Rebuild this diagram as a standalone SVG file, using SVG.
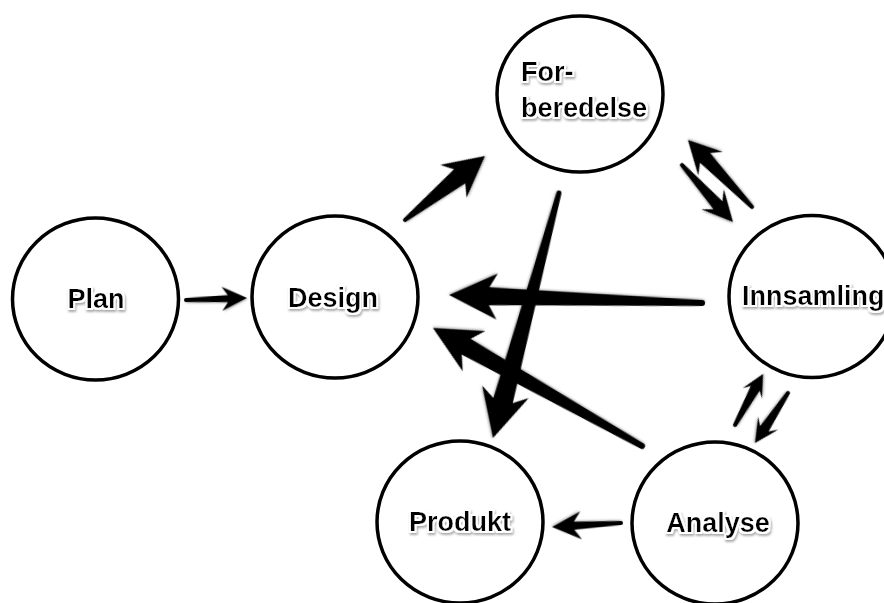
<svg xmlns="http://www.w3.org/2000/svg" width="884" height="603" viewBox="0 0 884 603">
<defs>
<style>
.node{fill:#fff;stroke:#000;stroke-width:3.5}
.lbl{font-family:"Liberation Sans",Arial,sans-serif;font-weight:bold;font-size:27px;fill:#000;filter:url(#ts)}
.arr{fill:#000;filter:url(#as)}
</style>
<filter id="ts" x="-10%" y="-30%" width="120%" height="170%">
<feMorphology in="SourceAlpha" operator="dilate" radius="1.5" result="d"/>
<feGaussianBlur in="d" stdDeviation="1.2" result="b"/>
<feOffset in="b" dx="0.5" dy="1.5" result="o"/>
<feFlood flood-color="#888" flood-opacity="0.7"/>
<feComposite in2="o" operator="in" result="sh"/>
<feFlood flood-color="#fff"/>
<feComposite in2="d" operator="in" result="wh"/>
<feMerge><feMergeNode in="sh"/><feMergeNode in="wh"/><feMergeNode in="SourceGraphic"/></feMerge>
</filter>
<filter id="as" x="-20%" y="-20%" width="140%" height="140%">
<feGaussianBlur in="SourceAlpha" stdDeviation="1" result="b"/>
<feOffset in="b" dx="0.5" dy="1" result="o"/>
<feFlood flood-color="#000" flood-opacity="0.3"/>
<feComposite in2="o" operator="in" result="sh"/>
<feMerge><feMergeNode in="sh"/><feMergeNode in="SourceGraphic"/></feMerge>
</filter>
</defs>
<rect width="884" height="603" fill="#fff"/>

<g id="nodes">
<g id="plan"><ellipse class="node" cx="95.5" cy="299" rx="83" ry="81"/><text class="lbl" x="96" y="308" text-anchor="middle">Plan</text></g>
<g id="design"><ellipse class="node" cx="335" cy="297" rx="83" ry="81"/><text class="lbl" x="333" y="307" text-anchor="middle">Design</text></g>
<g id="forberedelse"><ellipse class="node" cx="580" cy="94" rx="83" ry="78"/><text class="lbl" x="521" y="81">For-</text><text class="lbl" x="521" y="117">beredelse</text></g>
<g id="innsamling"><ellipse class="node" cx="812" cy="296.5" rx="83" ry="81"/><text class="lbl" x="742" y="305">Innsamling</text></g>
<g id="produkt"><ellipse class="node" cx="460" cy="522" rx="83" ry="81"/><text class="lbl" x="460" y="531" text-anchor="middle">Produkt</text></g>
<g id="analyse"><ellipse class="node" cx="715" cy="523" rx="83" ry="81"/><text class="lbl" x="718" y="532" text-anchor="middle">Analyse</text></g>
</g>

<g id="connectors">
<!-- Plan -> Design -->
<path class="arr" transform="translate(186,300) rotate(-1.9)" d="M0,-2 L42,-3.5 L36,-12 L61,0 L36,12 L42,3.5 L0,2 A2,2 0 0 1 0,-2 Z"/>
<!-- Design -> Forberedelse -->
<path class="arr" transform="translate(405,220) rotate(-38.66)" d="M0,-2 L70,-9 L62,-21 L102.4,0 L62,21 L70,9 L0,2 A2,2 0 0 1 0,-2 Z"/>
<!-- Innsamling -> Forberedelse -->
<path class="arr" transform="translate(752,207) rotate(-133.7)" d="M0,-2 L68,-7 L60,-17 L92.7,0 L60,17 L68,7 L0,2 A2,2 0 0 1 0,-2 Z"/>
<!-- Forberedelse -> Innsamling -->
<path class="arr" transform="translate(682,165) rotate(48.2)" d="M0,-2 L54,-6 L46,-15 L76.5,0 L46,15 L54,6 L0,2 A2,2 0 0 1 0,-2 Z"/>
<!-- Innsamling -> Design -->
<path class="arr" transform="translate(702,303) rotate(-178.19)" d="M0,-3 L213,-9 L205,-23 L253,0 L205,23 L213,9 L0,3 A3,3 0 0 1 0,-3 Z"/>
<!-- Analyse -> Design -->
<path class="arr" transform="translate(642,446) rotate(-150.55)" d="M0,-3 L202,-9 L193,-23 L240,0 L193,23 L202,9 L0,3 A3,3 0 0 1 0,-3 Z"/>
<!-- Forberedelse -> Produkt -->
<path class="arr" transform="translate(559,193) rotate(105.08)" d="M0,-2.5 L215,-10 L206,-24 L253.7,0 L206,24 L215,10 L0,2.5 A2.5,2.5 0 0 1 0,-2.5 Z"/>
<!-- Analyse -> Innsamling -->
<path class="arr" transform="translate(735,425) rotate(-61.2)" d="M0,-2 L42,-5 L36,-11 L58.2,0 L36,11 L42,5 L0,2 A2,2 0 0 1 0,-2 Z"/>
<!-- Innsamling -> Analyse -->
<path class="arr" transform="translate(788,393) rotate(123.4)" d="M0,-2 L43,-5 L36,-12 L59.9,0 L36,12 L43,5 L0,2 A2,2 0 0 1 0,-2 Z"/>
<!-- Analyse -> Produkt -->
<path class="arr" transform="translate(621,523) rotate(176.7)" d="M0,-2 L47,-4 L40,-14 L69,0 L40,14 L47,4 L0,2 A2,2 0 0 1 0,-2 Z"/>
</g>
</svg>
